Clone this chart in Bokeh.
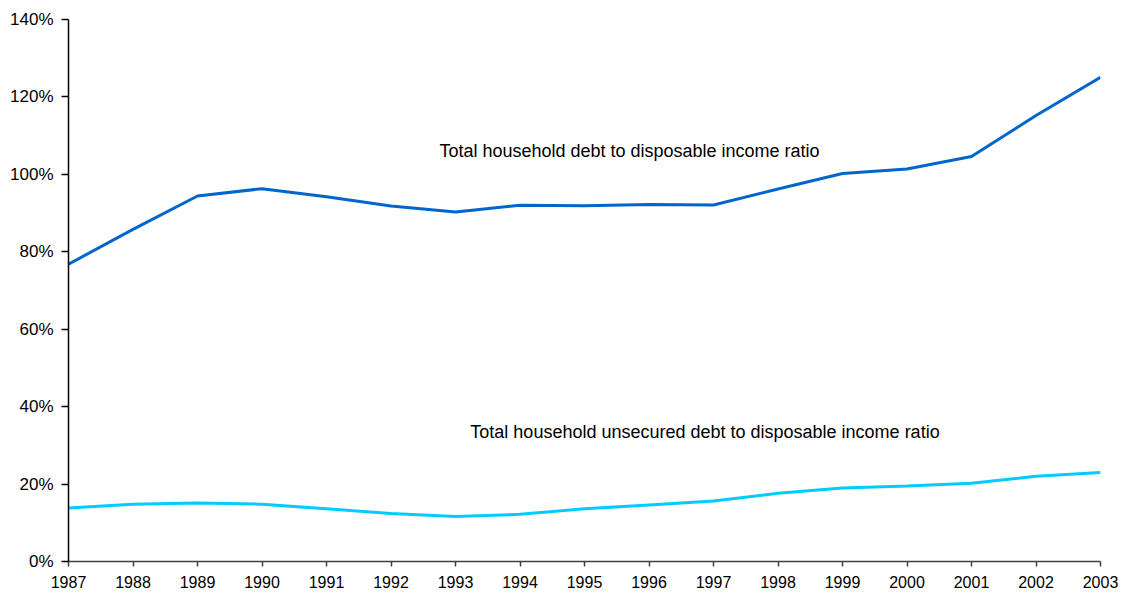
from bokeh.plotting import figure
from bokeh.models import Range1d, FixedTicker, NumeralTickFormatter, Label
from bokeh.embed import file_html
from bokeh.resources import INLINE

years = list(range(1987, 2004))
total_debt = [0.768, 0.858, 0.944, 0.963, 0.942, 0.918, 0.903, 0.920, 0.919, 0.922, 0.921,
              0.962, 1.002, 1.014, 1.046, 1.152, 1.251]
unsecured_debt = [0.138, 0.148, 0.151, 0.148, 0.136, 0.124, 0.116, 0.122, 0.136, 0.146, 0.156,
                  0.176, 0.190, 0.195, 0.202, 0.220, 0.230]
y_ticks = [0, 0.2, 0.4, 0.6, 0.8, 1.0, 1.2, 1.4]
label_total = "Total household debt to disposable income ratio"
label_unsecured = "Total household unsecured debt to disposable income ratio"

FONT = "Liberation Sans"

p = figure(width=1120, height=592, output_backend="svg", toolbar_location=None,
           x_range=Range1d(1987, 2003), y_range=Range1d(0, 1.4),
           min_border_left=68, min_border_right=20, min_border_top=19, min_border_bottom=31)
p.outline_line_color = None
p.xgrid.grid_line_color = None
p.ygrid.grid_line_color = None

p.line(years, total_debt, line_color="#0066CC", line_width=3)
p.line(years, unsecured_debt, line_color="#00CCFF", line_width=3)

p.yaxis.ticker = FixedTicker(ticks=y_ticks)
p.yaxis.formatter = NumeralTickFormatter(format="0%")
p.xaxis.ticker = FixedTicker(ticks=years)

for ax in (p.xaxis, p.yaxis):
    ax.major_label_text_font = FONT
    ax.major_label_text_color = "#000000"
    ax.axis_line_color = "#000000"
    ax.major_tick_line_color = "#000000"
    ax.axis_line_width = 1.5
    ax.major_tick_line_width = 1.5
    ax.minor_tick_line_color = None
    ax.major_tick_in = 0
p.xaxis.major_label_text_font_size = "16px"
p.yaxis.major_label_text_font_size = "17px"
p.xaxis.major_tick_out = 5
p.yaxis.major_tick_out = 7
p.xaxis.axis_line_color = "#404040"
p.xaxis.major_tick_line_color = "#404040"
p.xaxis.major_label_standoff = 9
p.yaxis.major_label_standoff = 8

p.add_layout(Label(x=1992.75, y=1.061, text=label_total, text_font=FONT,
                   text_font_size="18px", text_baseline="middle", text_color="#000000"))
p.add_layout(Label(x=1993.23, y=0.334, text=label_unsecured, text_font=FONT,
                   text_font_size="18px", text_baseline="middle", text_color="#000000"))

open("out.html", "w").write(file_html(p, INLINE))
